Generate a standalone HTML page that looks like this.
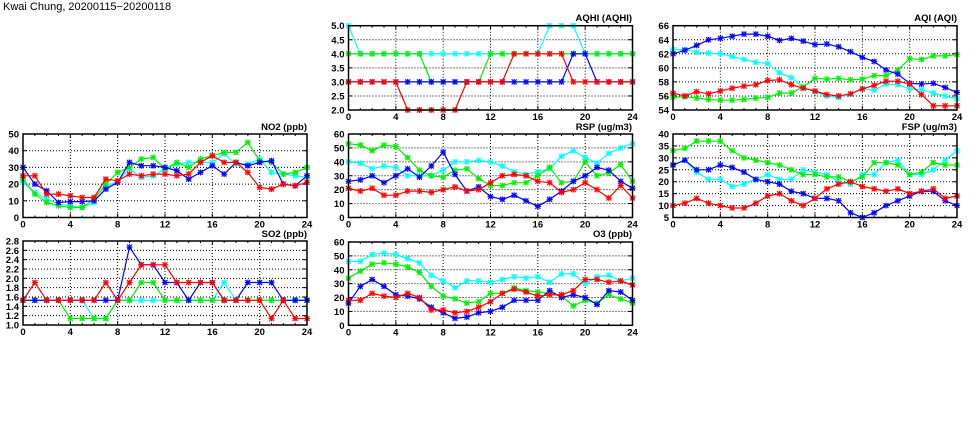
<!DOCTYPE html>
<html><head><meta charset="utf-8">
<style>
html,body{margin:0;padding:0;background:#fff;}
svg{display:block;}
text{font-family:"Liberation Sans",sans-serif;font-weight:bold;font-size:9.5px;fill:#000;}
.t{font-size:11px;font-weight:normal;}
</style></head>
<body>
<svg id="s" width="975" height="447" viewBox="0 0 975 447" xmlns="http://www.w3.org/2000/svg">
<text class="t" x="3" y="10">Kwai Chung, 20200115−20200118</text>
<text x="632" y="21" text-anchor="end">AQHI (AQHI)</text>
<text x="957" y="21" text-anchor="end">AQI (AQI)</text>
<text x="307" y="130" text-anchor="end">NO2 (ppb)</text>
<text x="632" y="130" text-anchor="end">RSP (ug/m3)</text>
<text x="957" y="130" text-anchor="end">FSP (ug/m3)</text>
<text x="307" y="237" text-anchor="end">SO2 (ppb)</text>
<text x="632" y="237" text-anchor="end">O3 (ppb)</text>
</svg>
<script>
var S=document.getElementById('s'),NS='http://www.w3.org/2000/svg';
function el(t,a,txt){var e=document.createElementNS(NS,t);for(var k in a)e.setAttribute(k,a[k]);if(txt!=null)e.textContent=txt;S.appendChild(e);return e;}
var XL=["0","4","8","12","16","20","24"];
var C={c:'#00ffff',g:'#00ee00',b:'#0000ff',r:'#ff0000'};
function panel(x0,y0,x1,y1,ymin,ymax,ylabels,data){
 var sx=function(v){return x0+(x1-x0)*v/24},sy=function(v){return y1-(y1-y0)*(v-ymin)/(ymax-ymin)};
 for(var i=1;i<6;i++){var x=sx(i*4);el('line',{x1:x,y1:y0,x2:x,y2:y1,stroke:'#000','stroke-width':1,'stroke-dasharray':'1,2'});}
 for(var j=0;j<ylabels.length;j++){var v=parseFloat(ylabels[j]),y=sy(v);
  if(j>0&&j<ylabels.length-1)el('line',{x1:x0,y1:y,x2:x1,y2:y,stroke:'#000','stroke-width':1,'stroke-dasharray':'1,2'});
  el('text',{x:x0-4,y:y+3.5,'text-anchor':'end'},ylabels[j]);
  el('line',{x1:x0,y1:y,x2:x0+4,y2:y,stroke:'#000'});el('line',{x1:x1,y1:y,x2:x1-4,y2:y,stroke:'#000'});}
 for(var i=0;i<7;i++){var x=sx(i*4);el('text',{x:x,y:y1+10,'text-anchor':'middle'},XL[i]);
  el('line',{x1:x,y1:y1,x2:x,y2:y1-4,stroke:'#000'});el('line',{x1:x,y1:y0,x2:x,y2:y0+4,stroke:'#000'});}
 for(var i=0;i<=24;i++){if(i%4){var x=sx(i);el('line',{x1:x,y1:y1,x2:x,y2:y1-2,stroke:'#000'});el('line',{x1:x,y1:y0,x2:x,y2:y0+2,stroke:'#000'});}}
 ['c','g','b','r'].forEach(function(k){var d=data[k];if(!d)return;var p=d.map(function(v,i){return sx(i).toFixed(1)+','+sy(v).toFixed(1)}).join(' ');
  el('polyline',{points:p,fill:'none',stroke:C[k],'stroke-width':1.2});
  d.forEach(function(v,i){var x=sx(i),y=sy(v);if(y<y0-1||y>y1+1)return;
   el('rect',{x:x-2.5,y:y-2.5,width:5,height:5,fill:C[k],opacity:0.3});
   el('path',{d:'M'+(x-2.5)+','+(y-2.5)+'l5,5m0,-5l-5,5M'+(x-3)+','+y+'h6M'+x+','+(y-3)+'v6',stroke:C[k],'stroke-width':1});});
 });
 el('rect',{x:x0,y:y0,width:x1-x0,height:y1-y0,fill:'none',stroke:'#000','stroke-width':1.5});
}
panel(23,134,307,217.5,0,50,["0","10","20","30","40","50"],{
 c:[21,15,11,8,7,6,9,18,22,29,24,25,29,32,33,33,33,38,32,32,35,27,26,25,24],
 g:[23,14,9,7,6,6,11,20,27,30,35,36,29,33,30,35,37,39,39,45,34,33,26,27,30],
 b:[30,20,16,9,9.5,9.5,10,17,21,33,31,31,30,28,23,27,31,26,33,31,33,34,20,19,25],
 r:[25,25,14,14,13,12,12,23,22,26,25,26,26,25,26,33,37,33,33,27,18,17,20,19,21]});
panel(348.5,25.7,632.5,110,2,5,["2.0","2.5","3.0","3.5","4.0","4.5","5.0"],{
 c:[5,4,4,4,4,4,4,4,4,4,4,4,4,4,4,4,4,5,5,5,4,4,4,4,4],
 g:[4,4,4,4,4,4,4,3,3,3,3,3,4,4,4,4,4,4,4,4,4,4,4,4,4],
 b:[3,3,3,3,3,3,3,3,3,3,3,3,3,3,3,3,3,3,3,4,4,3,3,3,3],
 r:[3,3,3,3,3,2,2,2,2,2,3,3,3,3,4,4,4,4,4,3,3,3,3,3,3]});
panel(348.5,134,632.5,217.5,0,60,["0","10","20","30","40","50","60"],{
 c:[40,39,35,37,36,30,30,30,34,40,40,41,40,37,33,31,33,35,44,48,43,39,46,50,53],
 g:[53,52,48,52,51,43,34,30,29,34,35,28,23,23,25,25,30,36,25,26,40,30,32,38,26],
 b:[26,27,30,25,30,35,29,37,47,31,19,22,15,13,16,12,8,13,19,26,30,36,34,26,21],
 r:[21,19,21,16,16,19,19,18,20,22,19,20,25,30,31,30,26,25,18,20,25,20,14,23,14]});
panel(673,25.7,957,110,54,66,["54","56","58","60","62","64","66"],{
 c:[62.6,62.6,62.2,62.1,62,61.6,61.2,60.8,60.6,59.3,58.6,57.2,56.6,56,55.8,56.3,57,56.8,57.7,57.6,57,56.9,56.4,56,55.6],
 g:[55.8,55.9,55.7,55.5,55.4,55.4,55.5,55.7,55.8,56.4,56.4,57.3,58.5,58.4,58.5,58.3,58.4,58.9,58.9,59.7,61.3,61.2,61.7,61.7,61.9],
 b:[62,62.5,63.2,64,64.2,64.5,64.8,64.8,64.5,63.9,64.2,63.8,63.3,63.4,63,62.3,61.5,60.9,59.7,59.1,57.8,57.7,57.8,57.2,56.5],
 r:[56.4,56,56.6,56.3,56.7,57.1,57.4,57.6,58.2,58.3,57.6,57.1,56.7,56.2,56,56.3,57,57.5,58.1,58.1,57.7,56.2,54.6,54.6,54.6]});
panel(673,134,957,217.5,5,40,["5","10","15","20","25","30","35","40"],{
 c:[27,29,24,21,21,18,19,21,23,21,21,25,24,23,20,19,23,23,28,29,23,23,25,29,33],
 g:[33,34,37,37,37,33,30,29,28,27,25,23,23,22,22,20,22,28,28,27,23,24,28,27,27],
 b:[27,29,25,25,27,26,24,21,20,19,16,15,13,13,12,7,5,7,10,12,14,16,16,12,10],
 r:[10,11,13,11,10,9,9,11,14,15,12,10,13,17,19,20,18,17,16,17,15,16,17,13,14]});
panel(23,241,307,325,1,2.8,["1.0","1.2","1.4","1.6","1.8","2.0","2.2","2.4","2.6","2.8"],{
 c:[1.53,1.53,1.53,1.53,1.53,1.53,1.14,1.14,1.53,1.53,1.53,1.53,1.53,1.53,1.53,1.53,1.53,1.91,1.53,1.53,1.53,1.53,1.53,1.53,1.53],
 g:[1.53,1.53,1.53,1.53,1.14,1.14,1.14,1.14,1.53,1.53,1.91,1.91,1.53,1.53,1.53,1.53,1.53,1.53,1.53,1.53,1.53,1.53,1.53,1.53,1.53],
 b:[1.53,1.53,1.53,1.53,1.53,1.53,1.53,1.53,1.53,2.67,2.29,2.29,1.91,1.91,1.53,1.91,1.91,1.53,1.53,1.91,1.91,1.91,1.53,1.53,1.53],
 r:[1.53,1.91,1.53,1.53,1.53,1.53,1.53,1.91,1.53,1.91,2.29,2.29,2.29,1.91,1.91,1.91,1.91,1.53,1.53,1.53,1.53,1.14,1.53,1.14,1.14]});
panel(348.5,242,632.5,325.3,0,60,["0","10","20","30","40","50","60"],{
 c:[46,46,51,52,51,48,45,36,32,27,32,32,31,33,35,34,35,31,37,37,30,35,36,32,34],
 g:[34,39,44,45,44,42,38,28,21,19,16,17,23,23,27,25,24,23,21,14,18,16,22,19,16],
 b:[16,28,33,28,22,21,19,13,9,5,6,9,10,13,18,18,18,25,20,22,20,15,25,24,18],
 r:[18,18,23,21,20,23,20,11,11,9,10,13,17,23,26,24,21,22,22,25,33,33,31,32,29]});
</script>
</body></html>
